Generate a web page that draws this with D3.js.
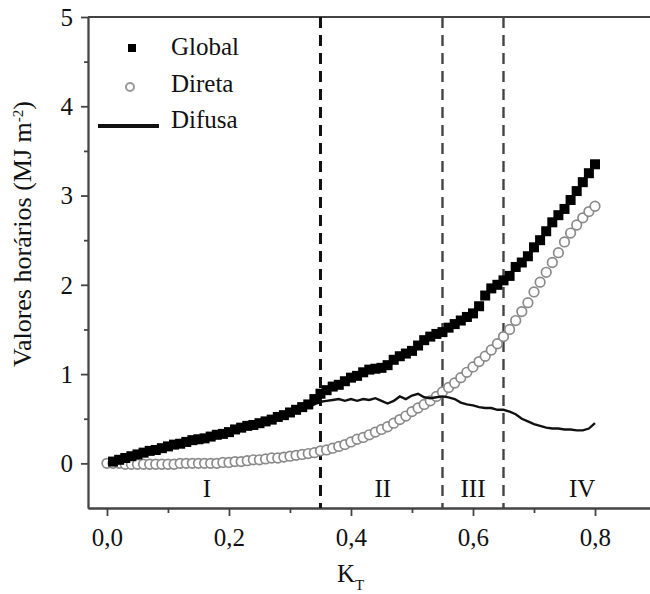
<!DOCTYPE html>
<html>
<head>
<meta charset="utf-8">
<script src="https://cdn.jsdelivr.net/npm/d3@7"></script>
<style>
  body { margin: 0; background: #fff; }
  svg text { font-family: "Liberation Serif", "DejaVu Serif", serif !important; fill: #111; }
</style>
</head>
<body>
<svg id="chart" width="650" height="594"></svg>
<script>
// K_T values (0,01 .. 0,80)
const kt = d3.range(1, 81).map(i => i / 100);
const ktDireta = d3.range(0, 81).map(i => i / 100);

const globalVals = [
  0.02, 0.04, 0.06, 0.08, 0.10, 0.12, 0.14, 0.15, 0.17, 0.19,
  0.21, 0.22, 0.24, 0.26, 0.27, 0.28, 0.30, 0.32, 0.33, 0.35,
  0.38, 0.40, 0.42, 0.43, 0.45, 0.47, 0.49, 0.52, 0.54, 0.57,
  0.60, 0.63, 0.66, 0.72, 0.78, 0.82, 0.86, 0.88, 0.92, 0.96,
  0.98, 1.02, 1.05, 1.06, 1.07, 1.10, 1.16, 1.20, 1.23, 1.26,
  1.32, 1.38, 1.42, 1.45, 1.47, 1.52, 1.56, 1.60, 1.64, 1.68,
  1.76, 1.88, 1.96, 2.00, 2.05, 2.10, 2.20, 2.25, 2.32, 2.42,
  2.50, 2.60, 2.70, 2.78, 2.85, 2.95, 3.05, 3.15, 3.25, 3.35
];

const diretaVals = [
  0.00,
  0.00, 0.00, -0.01, -0.01, -0.01, -0.01, -0.01, -0.01, -0.01, -0.01,
  -0.01, 0.00, 0.00, 0.00, 0.00, 0.00, 0.00, 0.00, 0.01, 0.01,
  0.02, 0.02, 0.03, 0.04, 0.04, 0.05, 0.06, 0.06, 0.07, 0.08,
  0.09, 0.10, 0.11, 0.12, 0.14, 0.15, 0.17, 0.19, 0.21, 0.24,
  0.27, 0.29, 0.32, 0.35, 0.38, 0.41, 0.45, 0.49, 0.53, 0.58,
  0.62, 0.66, 0.70, 0.75, 0.80, 0.85, 0.90, 0.96, 1.02, 1.08,
  1.14, 1.20, 1.27, 1.34, 1.42, 1.50, 1.60, 1.70, 1.80, 1.92,
  2.03, 2.14, 2.25, 2.36, 2.48, 2.58, 2.67, 2.75, 2.82, 2.88
];

const difusaVals = [
  0.02, 0.04, 0.06, 0.08, 0.10, 0.12, 0.14, 0.15, 0.17, 0.19,
  0.21, 0.22, 0.24, 0.26, 0.27, 0.28, 0.30, 0.31, 0.32, 0.34,
  0.37, 0.39, 0.41, 0.42, 0.44, 0.46, 0.47, 0.50, 0.52, 0.55,
  0.57, 0.60, 0.63, 0.66, 0.69, 0.70, 0.71, 0.72, 0.70, 0.72,
  0.70, 0.72, 0.71, 0.73, 0.70, 0.67, 0.70, 0.75, 0.72, 0.76,
  0.78, 0.74, 0.73, 0.74, 0.75, 0.74, 0.72, 0.68, 0.66, 0.65,
  0.63, 0.62, 0.62, 0.60, 0.60, 0.58, 0.55, 0.50, 0.47, 0.44,
  0.42, 0.40, 0.39, 0.39, 0.38, 0.38, 0.37, 0.37, 0.39, 0.45
];

const xTicks = [0, 0.2, 0.4, 0.6, 0.8];
const xMinor = [0.1, 0.3, 0.5, 0.7];
const yTicks = [0, 1, 2, 3, 4, 5];
const yMinor = [0.5, 1.5, 2.5, 3.5, 4.5];
const limits = [0.35, 0.55, 0.65];
const regions = ["I", "II", "III", "IV"];
const regionX = [0.164, 0.452, 0.6, 0.779];
const seriesNames = ["Global", "Direta", "Difusa"];

const serif = '"Liberation Serif", "DejaVu Serif", serif';

let svg = d3.select("#chart");

let x = d3.scaleLinear().domain([-0.0311, 0.9]).range([88, 656]);
let y = d3.scaleLinear().domain([-0.5, 5]).range([508, 17]);

const fmt = d => d3.format(".1f")(d).replace(".", ",");

// frame top line, right side falls outside the picture
svg.append("line").attr("x1", 88).attr("x2", 660).attr("y1", y(5)).attr("y2", y(5))
    .style("stroke", "#444").style("stroke-width", 1.8);

// axes
let xAxis = svg.append("g").attr("transform", `translate(0,${y(-0.5)})`)
    .call(d3.axisBottom(x).tickValues(xTicks).tickFormat(fmt).tickSize(8).tickSizeOuter(0));
let xMinorAxis = svg.append("g").attr("transform", `translate(0,${y(-0.5)})`)
    .call(d3.axisBottom(x).tickValues(xMinor).tickFormat("").tickSize(5).tickSizeOuter(0));
let yAxis = svg.append("g").attr("transform", `translate(${x(-0.0311)},0)`)
    .call(d3.axisLeft(y).tickValues(yTicks).tickFormat(d3.format("d")).tickSize(7).tickSizeOuter(0));
let yMinorAxis = svg.append("g").attr("transform", `translate(${x(-0.0311)},0)`)
    .call(d3.axisLeft(y).tickValues(yMinor).tickFormat("").tickSize(4).tickSizeOuter(0));

[xAxis, xMinorAxis, yAxis, yMinorAxis].forEach(a => {
    a.attr("font-family", serif);
    a.selectAll("path").style("stroke", "#444").style("stroke-width", 1.8);
    a.selectAll("line").style("stroke", "#444").style("stroke-width", 1.8);
});
xAxis.selectAll("text").style("font-size", "25px").style("font-family", serif)
    .attr("y", 0).attr("dy", 0).attr("transform", "translate(0,38)");
yAxis.selectAll("text").style("font-size", "25px").style("font-family", serif)
    .attr("x", -15).attr("dy", "0.33em");

// region limits
svg.selectAll(".limit")
    .data(limits)
    .enter().append("line")
    .attr("class", "limit")
    .attr("x1", d => x(d)).attr("x2", d => x(d))
    .attr("y1", y(5)).attr("y2", y(-0.5))
    .style("stroke", (d, i) => i === 0 ? "#111" : "#444")
    .style("stroke-width", (d, i) => i === 0 ? 3 : 2.4)
    .style("stroke-dasharray", "11,7");

// region labels
svg.selectAll(".region")
    .data(regions)
    .enter().append("text")
    .attr("class", "region")
    .attr("x", (d, i) => x(regionX[i]))
    .attr("y", y(-0.375))
    .attr("text-anchor", "middle")
    .style("font-family", serif)
    .style("font-size", "25px")
    .text(d => d);

// Direta: open circles
svg.append("g").selectAll("circle")
    .data(diretaVals)
    .enter().append("circle")
    .attr("cx", (d, i) => x(ktDireta[i]))
    .attr("cy", d => y(d))
    .attr("r", 4.8)
    .style("fill", "#fff")
    .style("stroke", "#8a8a8a")
    .style("stroke-width", 1.7);

// Difusa: line
let line = d3.line().x((d, i) => x(kt[i])).y(d => y(d));
svg.append("path")
    .datum(difusaVals)
    .attr("d", line)
    .style("fill", "none")
    .style("stroke", "#111")
    .style("stroke-width", 2.4);

// Global: filled squares
const sq = 10;
svg.append("g").selectAll("rect")
    .data(globalVals)
    .enter().append("rect")
    .attr("x", (d, i) => x(kt[i]) - sq / 2)
    .attr("y", d => y(d) - sq / 2)
    .attr("width", sq)
    .attr("height", sq)
    .style("fill", "#000");

// legend
let legend = svg.append("g");
legend.append("rect").attr("x", 128).attr("y", 44).attr("width", 8).attr("height", 8).style("fill", "#000");
legend.append("circle").attr("cx", 130).attr("cy", 87).attr("r", 4).style("fill", "#fff")
    .style("stroke", "#999").style("stroke-width", 2);
legend.append("line").attr("x1", 98).attr("x2", 159).attr("y1", 126).attr("y2", 126)
    .style("stroke", "#111").style("stroke-width", 4);
legend.selectAll(".legendText")
    .data(seriesNames)
    .enter().append("text")
    .attr("class", "legendText")
    .attr("x", 171)
    .attr("y", (d, i) => 55 + i * 36.5)
    .style("font-family", serif)
    .style("font-size", "25px")
    .text(d => d);

// axis titles
let ylab = svg.append("text")
    .attr("transform", "translate(31,234) rotate(-90)")
    .attr("text-anchor", "middle")
    .style("font-family", serif)
    .style("font-size", "26px");
ylab.append("tspan").text("Valores horários (MJ m");
ylab.append("tspan").attr("baseline-shift", "super").style("font-size", "15px").text("-2");
ylab.append("tspan").text(")");

let xlab = svg.append("text")
    .attr("x", 337).attr("y", 582)
    .style("font-family", serif)
    .style("font-size", "25px");
xlab.append("tspan").text("K");
xlab.append("tspan").attr("baseline-shift", "sub").style("font-size", "15px").text("T");
</script>
</body>
</html>
